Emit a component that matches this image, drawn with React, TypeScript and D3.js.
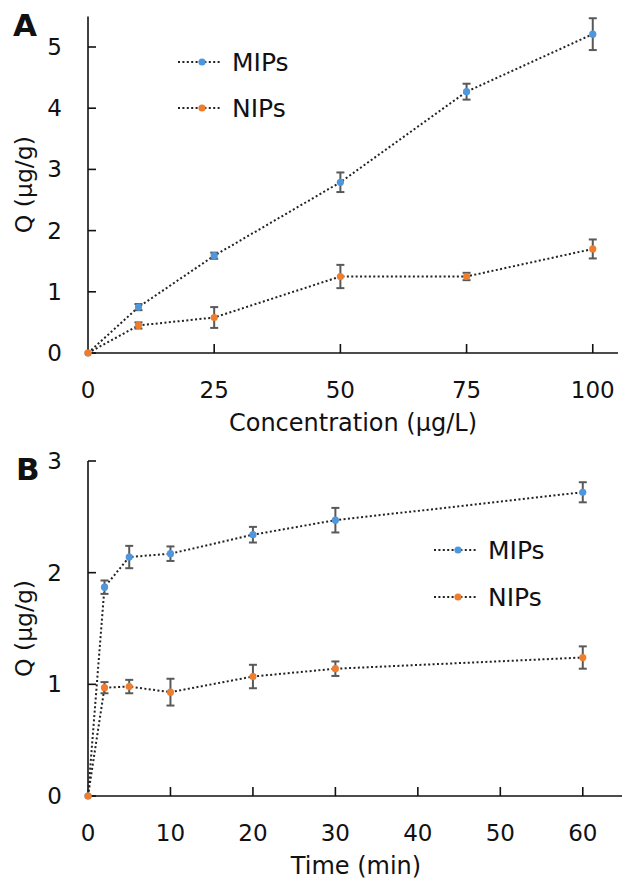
import React from "react";
import * as d3 from "d3";

const concA = [0, 10, 25, 50, 75, 100];
const mipsA = [0, 0.75, 1.59, 2.79, 4.27, 5.21];
const mipsAErr = [0, 0.05, 0.05, 0.16, 0.13, 0.26];
const nipsA = [0, 0.45, 0.58, 1.25, 1.25, 1.7];
const nipsAErr = [0, 0.05, 0.17, 0.19, 0.06, 0.155];
const xTicksA = [0, 25, 50, 75, 100];
const yTicksA = [0, 1, 2, 3, 4, 5];

const timeB = [0, 2, 5, 10, 20, 30, 60];
const mipsB = [0, 1.87, 2.14, 2.17, 2.34, 2.47, 2.72];
const mipsBErr = [0, 0.06, 0.1, 0.065, 0.07, 0.11, 0.09];
const nipsB = [0, 0.97, 0.98, 0.93, 1.07, 1.14, 1.24];
const nipsBErr = [0, 0.05, 0.06, 0.12, 0.105, 0.065, 0.1];
const xTicksB = [0, 10, 20, 30, 40, 50, 60];
const yTicksB = [0, 1, 2, 3];

const BLUE = "#4f97dc";
const ORANGE = "#ef7d2e";
const ERR = "#595959";
const FONT = "'DejaVu Sans', 'Open Sans', sans-serif";

type PanelProps = {
  letter: string;
  x: number[];
  s1: number[];
  e1: number[];
  s2: number[];
  e2: number[];
  xDomain: [number, number];
  yDomain: [number, number];
  xRange: [number, number];
  yRange: [number, number];
  xTicks: number[];
  yTicks: number[];
  xTitle: string;
  xTitleY: number;
  letterPos: [number, number];
  legendPos: [number, number, number];
};

function Panel(p: PanelProps) {
  const xs = d3.scaleLinear().domain(p.xDomain).range(p.xRange);
  const ys = d3.scaleLinear().domain(p.yDomain).range(p.yRange);
  const line = d3
    .line<number>()
    .x((_, i) => xs(p.x[i]))
    .y((d) => ys(d));
  const [x0, x1] = p.xRange;
  const [yb, yt] = p.yRange;
  const series = [
    { v: p.s1, e: p.e1, c: BLUE, name: "MIPs" },
    { v: p.s2, e: p.e2, c: ORANGE, name: "NIPs" },
  ];
  const [lx, ly, lg] = p.legendPos;
  return (
    <g>
      <text x={p.letterPos[0]} y={p.letterPos[1]} fontFamily={FONT} fontWeight="bold" fontSize={31} dominantBaseline="central" fill="#111">
        {p.letter}
      </text>
      <line x1={x0} x2={x1} y1={yb} y2={yb} stroke="#111" strokeWidth={1.6} />
      <line x1={x0} x2={x0} y1={yb} y2={yt} stroke="#111" strokeWidth={1.6} />
      {p.yTicks.map((t) => (
        <g key={"y" + t}>
          <line x1={x0} x2={x0 + 8} y1={ys(t)} y2={ys(t)} stroke="#111" strokeWidth={1.6} />
          <text x={x0 - 26} y={ys(t)} textAnchor="end" dominantBaseline="central" fontFamily={FONT} fontSize={23} fill="#111">
            {t}
          </text>
        </g>
      ))}
      {p.xTicks.map((t) => (
        <g key={"x" + t}>
          {t !== 0 && <line x1={xs(t)} x2={xs(t)} y1={yb} y2={yb - 9} stroke="#111" strokeWidth={1.6} />}
          <text x={xs(t)} y={yb + 37} textAnchor="middle" dominantBaseline="central" fontFamily={FONT} fontSize={23} fill="#111">
            {t}
          </text>
        </g>
      ))}
      <text x={(x0 + x1) / 2} y={p.xTitleY} textAnchor="middle" dominantBaseline="central" fontFamily={FONT} fontSize={24} fill="#111">
        {p.xTitle}
      </text>
      <text
        transform={`translate(24,${(yb + yt) / 2}) rotate(-90)`}
        textAnchor="middle"
        dominantBaseline="central"
        fontFamily={FONT}
        fontSize={23.5}
        fill="#111"
      >
        Q (μg/g)
      </text>
      {series.map((s) => (
        <path key={"l" + s.name} d={line(s.v) || ""} fill="none" stroke="#222" strokeWidth={2} strokeDasharray="2 2.4" />
      ))}
      {series.map((s) =>
        s.v.map((v, i) =>
          s.e[i] > 0 ? (
            <g key={"e" + s.name + i} stroke={ERR} strokeWidth={2}>
              <line x1={xs(p.x[i])} x2={xs(p.x[i])} y1={ys(v - s.e[i])} y2={ys(v + s.e[i])} />
              <line x1={xs(p.x[i]) - 4} x2={xs(p.x[i]) + 4} y1={ys(v - s.e[i])} y2={ys(v - s.e[i])} />
              <line x1={xs(p.x[i]) - 4} x2={xs(p.x[i]) + 4} y1={ys(v + s.e[i])} y2={ys(v + s.e[i])} />
            </g>
          ) : null
        )
      )}
      {series.map((s) =>
        s.v.map((v, i) => <circle key={"m" + s.name + i} cx={xs(p.x[i])} cy={ys(v)} r={3.6} fill={s.c} />)
      )}
      {series.map((s, k) => (
        <g key={"lg" + s.name}>
          <line x1={lx} x2={lx + 44} y1={ly + k * lg} y2={ly + k * lg} stroke="#222" strokeWidth={2} strokeDasharray="2 2.4" />
          <circle cx={lx + 24} cy={ly + k * lg} r={3.6} fill={s.c} />
          <text x={lx + 54} y={ly + k * lg} dominantBaseline="central" fontFamily={FONT} fontSize={25} fill="#111">
            {s.name}
          </text>
        </g>
      ))}
    </g>
  );
}

export default function App() {
  return (
    <svg width={622} height={879} style={{ position: "absolute", left: 0, top: 0, background: "#fff" }}>
      <Panel
        letter="A"
        x={concA}
        s1={mipsA}
        e1={mipsAErr}
        s2={nipsA}
        e2={nipsAErr}
        xDomain={[0, 105]}
        yDomain={[0, 5.5]}
        xRange={[88, 618]}
        yRange={[353, 16.4]}
        xTicks={xTicksA}
        yTicks={yTicksA}
        xTitle="Concentration (μg/L)"
        xTitleY={423}
        letterPos={[13, 25]}
        legendPos={[178, 62, 46]}
      />
      <Panel
        letter="B"
        x={timeB}
        s1={mipsB}
        e1={mipsBErr}
        s2={nipsB}
        e2={nipsBErr}
        xDomain={[0, 65]}
        yDomain={[0, 3]}
        xRange={[88, 624]}
        yRange={[796, 461]}
        xTicks={xTicksB}
        yTicks={yTicksB}
        xTitle="Time (min)"
        xTitleY={866}
        letterPos={[16, 469]}
        legendPos={[434, 550, 47]}
      />
    </svg>
  );
}
